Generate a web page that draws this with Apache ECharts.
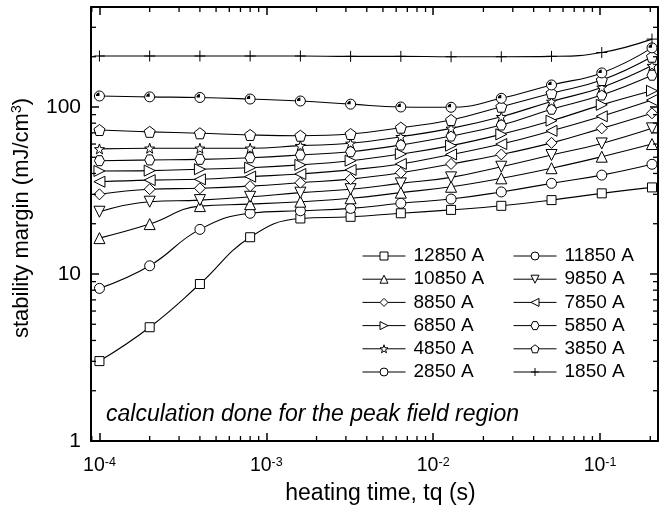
<!DOCTYPE html>
<html><head><meta charset="utf-8">
<script src="https://cdn.jsdelivr.net/npm/echarts@6/dist/echarts.min.js"></script>
<style>html,body{margin:0;padding:0;background:#fff}#c{width:659px;height:510px}</style>
</head><body><div id="c"></div>
<script>
// ---- data ----
const heatingTime = [1e-4, 2e-4, 4e-4, 8e-4, 1.6e-3, 3.2e-3, 6.4e-3, 1.28e-2, 2.56e-2, 5.12e-2, 0.1024, 0.2048];
const m12850 = [3.01, 4.8, 8.71, 16.6, 21.5, 22.0, 23.1, 24.2, 25.6, 27.7, 30.4, 33.0];
const m11850 = [8.2, 11.2, 18.5, 23.1, 23.9, 24.7, 26.5, 28.1, 31.0, 34.9, 39.1, 45.4];
const m10850 = [16.4, 19.9, 25.5, 26.2, 27.1, 28.4, 30.7, 33.3, 37.4, 43.0, 50.4, 60.0];
const m9850  = [23.6, 27.1, 27.7, 29.0, 30.7, 32.2, 34.9, 37.9, 43.9, 51.6, 60.5, 74.5];
const m8850  = [30.0, 32.2, 32.6, 33.6, 35.2, 37.0, 40.4, 45.6, 52.0, 61.0, 74.5, 91.7];
const m7850  = [35.7, 36.5, 36.9, 38.3, 39.7, 42.0, 45.6, 52.0, 60.0, 72.0, 88.0, 110];
const m6850  = [41.4, 41.6, 42.4, 43.3, 45.0, 47.7, 52.3, 58.7, 68.6, 82.8, 103, 125];
const m5850  = [47.7, 48.2, 48.6, 49.7, 51.6, 54.0, 59.2, 67.0, 78.0, 97.0, 118, 155];
const m4850  = [56.1, 56.6, 56.6, 56.6, 58.7, 60.6, 66.4, 74.5, 87.5, 108, 131, 177];
const m3850  = [72.8, 71.0, 69.6, 68.0, 67.3, 68.9, 75.2, 83.6, 100.4, 121, 145, 200];
const m2850  = [116.4, 115, 114, 111.6, 108.6, 104, 100, 99.6, 112.7, 135.5, 160, 226];
const m1850  = [202, 202, 202, 202, 202, 201, 201, 200, 200, 201, 212, 255];
const seriesNames = ['12850 A','11850 A','10850 A','9850 A','8850 A','7850 A','6850 A','5850 A','4850 A','3850 A','2850 A','1850 A'];
const seriesValues = [m12850, m11850, m10850, m9850, m8850, m7850, m6850, m5850, m4850, m3850, m2850, m1850];
const legendLeftNames = ['12850 A','10850 A','8850 A','6850 A','4850 A','2850 A'];
const legendRightNames = ['11850 A','9850 A','7850 A','5850 A','3850 A','1850 A'];
const annotation = 'calculation done for the peak field region';
const xTitle = 'heating time, tq (s)';
const X_MIN = 8.9e-5, X_MAX = 0.2225, Y_MIN = 1, Y_MAX = 397;

// ---- styles ----
const FONT = 'Liberation Sans, Arial, Helvetica, sans-serif';
const star = 'path://M5,0L6.176,3.382L9.755,3.455L6.902,5.618L7.939,9.045L5,7L2.061,9.045L3.098,5.618L0.245,3.455L3.824,3.382Z';
const symbols = [
  'rect', 'circle', 'triangle',
  'path://M0,0L10,0L5,8.66Z',
  'diamond',
  'path://M8.66,0L8.66,10L0,5Z',
  'path://M0,0L0,10L8.66,5Z',
  'path://M2.5,0L7.5,0L10,4.33L7.5,8.66L2.5,8.66L0,4.33Z',
  star,
  'path://M5,0L9.755,3.455L7.939,9.045L2.061,9.045L0.245,3.455Z',
  'circle',
  'path://M5,0L5,10M0,5L10,5'
];
const sizes = [9, 10, 11, 11, 11, 11, 11, 10, 10, 11, 10, 11];

const series = seriesNames.map((name, i) => ({
  name, type: 'line', smooth: 0.45,
  data: heatingTime.map((t, j) => [t, seriesValues[i][j]]),
  symbol: symbols[i], symbolSize: sizes[i], showAllSymbol: true,
  itemStyle: { color: '#fff', borderColor: '#000', borderWidth: 1 },
  lineStyle: { color: '#000', width: 1.1 },
  emphasis: { disabled: true }, z: 3
}));
// dark wedge inside the 2850 A markers
series.push({
  name: '2850 A', type: 'line', smooth: 0.45,
  data: heatingTime.map((t, j) => [t, m2850[j]]),
  symbol: 'path://M0,0M10,10M5,5L5,1.5A3.5,3.5,0,0,0,1.5,5Z', symbolSize: 10,
  itemStyle: { color: '#000', borderWidth: 0 },
  lineStyle: { width: 0, opacity: 0 }, emphasis: { disabled: true }, z: 4
});

// minor ticks (2..9 per decade) on all four sides
const minorData = [];
for (let d = -5; d <= 0; d++) for (let k = 2; k <= 9; k++) {
  const v = k * Math.pow(10, d); if (v > X_MIN && v < X_MAX) minorData.push([v, Y_MIN, 0]);
}
for (let d = 0; d <= 3; d++) for (let k = 2; k <= 9; k++) {
  const v = k * Math.pow(10, d); if (v > Y_MIN && v < Y_MAX) minorData.push([X_MIN, v, 1]);
}
series.push({
  type: 'custom', silent: true, clip: false, z: 5,
  data: minorData,
  renderItem: function (params, api) {
    const L = 5, st = { stroke: '#000', lineWidth: 1.3 };
    if (api.value(2) === 0) {
      const v = api.value(0);
      const b = api.coord([v, Y_MIN]), t = api.coord([v, Y_MAX]);
      return { type: 'group', children: [
        { type: 'line', shape: { x1: b[0], y1: b[1], x2: b[0], y2: b[1] - L }, style: st },
        { type: 'line', shape: { x1: t[0], y1: t[1], x2: t[0], y2: t[1] + L }, style: st } ] };
    } else {
      const v = api.value(1);
      const l = api.coord([X_MIN, v]), r = api.coord([X_MAX, v]);
      return { type: 'group', children: [
        { type: 'line', shape: { x1: l[0], y1: l[1], x2: l[0] + L, y2: l[1] }, style: st },
        { type: 'line', shape: { x1: r[0], y1: r[1], x2: r[0] - L, y2: r[1] }, style: st } ] };
    }
  }
});

const axisLine = { show: true, lineStyle: { color: '#000', width: 2 } };
const majorTick = { show: true, inside: true, length: 8, lineStyle: { color: '#000', width: 1.5 } };

const legendBase = {
  orient: 'vertical', itemWidth: 43, itemHeight: 10, itemGap: 3.2, selectedMode: false, padding: 0,
  itemStyle: { color: '#fff', borderColor: '#000', borderWidth: 1 },
  lineStyle: { color: '#000', width: 1 },
  textStyle: { fontSize: 19, color: '#000', fontFamily: FONT, lineHeight: 20, padding: [0, 0, 0, 3] }
};

const option = {
  animation: false,
  backgroundColor: '#fff',
  title: {
    text: annotation, left: 106, top: 403, padding: 0,
    textStyle: { fontSize: 23, fontStyle: 'italic', fontWeight: 'normal', color: '#000', fontFamily: FONT }
  },
  grid: { left: 91, right: 1, top: 7, bottom: 69, containLabel: false },
  legend: [
    Object.assign({}, legendBase, { data: legendLeftNames, left: 362, top: 246 }),
    Object.assign({}, legendBase, { data: legendRightNames, left: 513, top: 246 })
  ],
  xAxis: [
    {
      type: 'log', logBase: 10, min: X_MIN, max: X_MAX, position: 'bottom',
      axisLine, axisTick: majorTick, splitLine: { show: false },
      axisLabel: {
        showMinLabel: false, showMaxLabel: false, margin: 15,
        formatter: v => '{b|10}{s|' + Math.round(Math.log10(v)) + '}',
        rich: {
          b: { fontSize: 19.5, color: '#000', fontFamily: FONT, lineHeight: 20 },
          s: { fontSize: 12.5, color: '#000', fontFamily: FONT, verticalAlign: 'top', lineHeight: 20 }
        }
      },
      name: xTitle, nameLocation: 'middle', nameGap: 41,
      nameTextStyle: { fontSize: 23, color: '#000', fontFamily: FONT, padding: [0, 0, 0, 12] }
    },
    {
      type: 'log', logBase: 10, min: X_MIN, max: X_MAX, position: 'top',
      axisLine, axisTick: majorTick, axisLabel: { show: false }, splitLine: { show: false }
    }
  ],
  yAxis: [
    {
      type: 'log', logBase: 10, min: Y_MIN, max: Y_MAX, position: 'left',
      axisLine, axisTick: majorTick, splitLine: { show: false },
      axisLabel: {
        showMaxLabel: false, margin: 10, fontSize: 21, color: '#000', fontFamily: FONT,
        formatter: v => String(Math.round(v))
      },
      name: '{a|stability margin (mJ/cm}{s|3}{a|)}', nameLocation: 'middle', nameGap: 57, nameRotate: 90,
      nameTextStyle: {
        padding: [0, 0, 0, 12],
        rich: {
          a: { fontSize: 22, color: '#000', fontFamily: FONT, lineHeight: 24 },
          s: { fontSize: 14, color: '#000', fontFamily: FONT, verticalAlign: 'top', lineHeight: 24 }
        }
      }
    },
    {
      type: 'log', logBase: 10, min: Y_MIN, max: Y_MAX, position: 'right',
      axisLine, axisTick: majorTick, axisLabel: { show: false }, splitLine: { show: false }
    }
  ],
  series
};
const chart = echarts.init(document.getElementById('c'), null, { renderer: 'canvas' });
chart.setOption(option);
</script>
</body></html>
